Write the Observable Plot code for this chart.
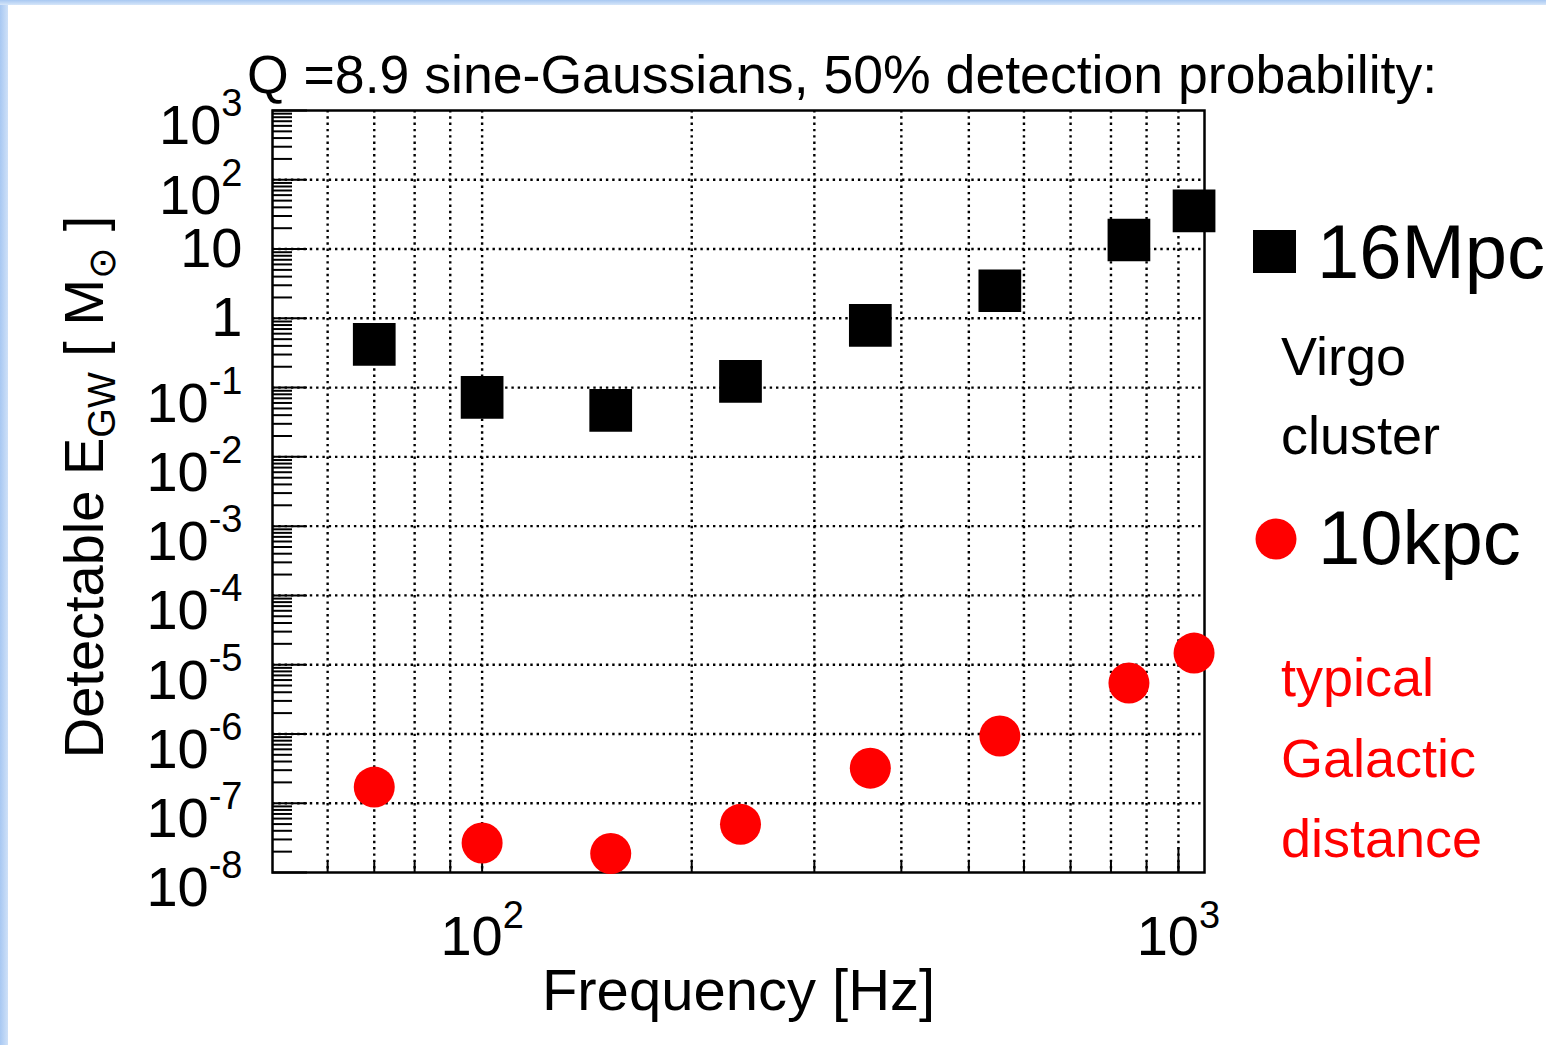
<!DOCTYPE html>
<html>
<head>
<meta charset="utf-8">
<script src="https://cdn.jsdelivr.net/npm/d3@7"></script>
<script src="https://cdn.jsdelivr.net/npm/@observablehq/plot@0.6"></script>
<style>
  html, body { margin: 0; padding: 0; background: #fff; }
  #wrap { position: relative; width: 1546px; height: 1045px; overflow: hidden; background: #fff; }
  #wrap svg { position: absolute; left: 0; top: 0; }
  #stripL { position: absolute; left: 0; top: 0; width: 8px; height: 1045px; background: linear-gradient(90deg, #a8c8f2, #cfe1f8); }
  #stripT { position: absolute; left: 0; top: 0; width: 1546px; height: 5px; background: linear-gradient(180deg, #a8c8f2, #d6e6f9); }
</style>
</head>
<body>
<div id="wrap"></div>
<script>
// ---- data ----
const frequencies    = [70, 100, 153, 235, 361, 554, 849, 1053];               // Hz
const energyVirgo    = [0.42, 0.072, 0.047, 0.123, 0.79, 2.5, 13.5, 35.6];      // Msun, 16 Mpc
const energyGalactic = [1.71e-7, 2.67e-8, 1.88e-8, 4.96e-8, 3.21e-7, 9.35e-7, 5.43e-6, 1.47e-5]; // Msun, 10 kpc

// ---- axis structure ----
const xGridTicks  = [60, 70, 80, 90, 100, 200, 300, 400, 500, 600, 700, 800, 900, 1000];
const xLongTicks  = [1000];
const xLabelTicks = [100, 1000];
const xTickLabels = ["10^2", "10^3"];
const yDecades    = [1e-8, 1e-7, 1e-6, 1e-5, 1e-4, 1e-3, 1e-2, 1e-1, 1, 10, 100, 1000];
const yTickLabels = ["10^-8", "10^-7", "10^-6", "10^-5", "10^-4", "10^-3", "10^-2", "10^-1", "1", "10", "10^2", "10^3"];
const yGridLines  = [1e-7, 1e-6, 1e-5, 1e-4, 1e-3, 1e-2, 1e-1, 1, 10, 100];
const yMinorMultipliers = [2, 3, 4, 5, 6, 7, 8, 9];

const titleText  = "Q =8.9 sine-Gaussians, 50% detection probability:";
const xLabelText = "Frequency [Hz]";

const W = 1546, H = 1045;
const mL = 272, mR = 342, mT = 110, mB = 173;
const plotW = W - mL - mR, plotH = H - mT - mB;
const FONT = '"Liberation Sans", Arial, Helvetica, sans-serif';

const yMinorTicks = yDecades.slice(0, -1).flatMap(d => yMinorMultipliers.map(m => d * m));
const yLabelMap = new Map(yDecades.map((d, i) => [d, yTickLabels[i]]));
const xLabelMap = new Map(xLabelTicks.map((d, i) => [d, xTickLabels[i]]));

const virgoRows    = frequencies.map((f, i) => ({f, e: energyVirgo[i]}));
const galacticRows = frequencies.map((f, i) => ({f, e: energyGalactic[i]}));

const dotted = {stroke: "#000", strokeWidth: 2.4, strokeDasharray: "2.4,3.9"};

const plot = Plot.plot({
  width: W, height: H,
  marginLeft: mL, marginRight: mR, marginTop: mT, marginBottom: mB,
  style: {fontFamily: FONT, fontSize: "56px", background: "transparent", color: "#000", overflow: "visible"},
  x: {type: "log", domain: [50, 1090]},
  y: {type: "log", domain: [1e-8, 1e3]},
  marks: [
    Plot.ruleX(xGridTicks, dotted),
    Plot.ruleY(yGridLines, dotted),
    Plot.tickY(yMinorTicks, {stroke: "#000", strokeWidth: 2, insetRight: plotW - 20}),
    Plot.tickY(yDecades, {stroke: "#000", strokeWidth: 2, insetRight: plotW - 35}),
    Plot.tickX(xGridTicks, {stroke: "#000", strokeWidth: 2, insetTop: plotH - 11}),
    Plot.tickX(xLongTicks, {stroke: "#000", strokeWidth: 2, insetTop: plotH - 25}),
    Plot.frame({stroke: "#000", strokeWidth: 2.5}),
    Plot.axisY(yDecades, {anchor: "left", tickSize: 0, tickPadding: 30, tickFormat: d => yLabelMap.get(d), label: null}),
    Plot.axisX(xLabelTicks, {anchor: "bottom", tickSize: 0, tickPadding: 43, tickFormat: d => xLabelMap.get(d), label: null}),
    Plot.dot(virgoRows, {x: "f", y: "e", symbol: "square", r: 24.1, fill: "#000"}),
    Plot.dot(galacticRows, {x: "f", y: "e", symbol: "circle", r: 20.5, fill: "#ff0000"}),
    Plot.text([xLabelText], {frameAnchor: "bottom", dy: 137, text: d => d, fontSize: 58})
  ]
});

// superscripts for "10^n" tick labels
function supify(selector, baseDy, expDy) {
  d3.select(plot).selectAll(selector).each(function () {
    const t = d3.select(this);
    const s = t.text();
    if (!s.includes("^")) return;
    const [b, e] = s.split("^");
    t.text(null);
    t.append("tspan").attr("dy", baseDy).text(b);
    t.append("tspan").attr("dy", expDy).attr("font-size", 38).text(e);
  });
}
supify('g[aria-label="y-axis tick label"] text', 16, -28);
supify('g[aria-label="x-axis tick label"] text', 0, -27);

const svg = d3.select(plot);

// y-axis title with subscripts
const yl = svg.append("text")
  .attr("transform", "translate(103,487) rotate(-90)")
  .attr("text-anchor", "middle")
  .attr("font-size", 56)
  .attr("fill", "#000");
yl.append("tspan").text("Detectable E");
yl.append("tspan").attr("font-size", 38).attr("dy", 12).text("GW");
yl.append("tspan").attr("dy", -12).text(" [ M");
yl.append("tspan").attr("font-size", 38).attr("dy", 12).text("\u2299");
yl.append("tspan").attr("dy", -12).text(" ]");

// title
svg.append("text").attr("x", 247).attr("y", 93).attr("text-anchor", "start")
  .attr("font-size", 53.6).attr("fill", "#000").text(titleText);

// legend / annotations
const legend = svg.append("g").attr("text-anchor", "start");
legend.append("rect").attr("x", 1253).attr("y", 230).attr("width", 43).attr("height", 43).attr("fill", "#000");
legend.append("text").attr("x", 1317).attr("y", 278).attr("font-size", 76).attr("fill", "#000").text("16Mpc");
legend.append("text").attr("x", 1281).attr("y", 375).attr("font-size", 54).attr("fill", "#000").text("Virgo");
legend.append("text").attr("x", 1281).attr("y", 454).attr("font-size", 54).attr("fill", "#000").text("cluster");
legend.append("circle").attr("cx", 1276).attr("cy", 539).attr("r", 20.5).attr("fill", "#ff0000");
legend.append("text").attr("x", 1318).attr("y", 564).attr("font-size", 76).attr("fill", "#000").text("10kpc");
legend.append("text").attr("x", 1281).attr("y", 696).attr("font-size", 54).attr("fill", "#ff0000").text("typical");
legend.append("text").attr("x", 1281).attr("y", 777).attr("font-size", 54).attr("fill", "#ff0000").text("Galactic");
legend.append("text").attr("x", 1281).attr("y", 857).attr("font-size", 54).attr("fill", "#ff0000").text("distance");

const wrap = document.getElementById("wrap");
wrap.appendChild(plot);
const sl = document.createElement("div"); sl.id = "stripL"; wrap.appendChild(sl);
const st = document.createElement("div"); st.id = "stripT"; wrap.appendChild(st);
</script>
</body>
</html>
